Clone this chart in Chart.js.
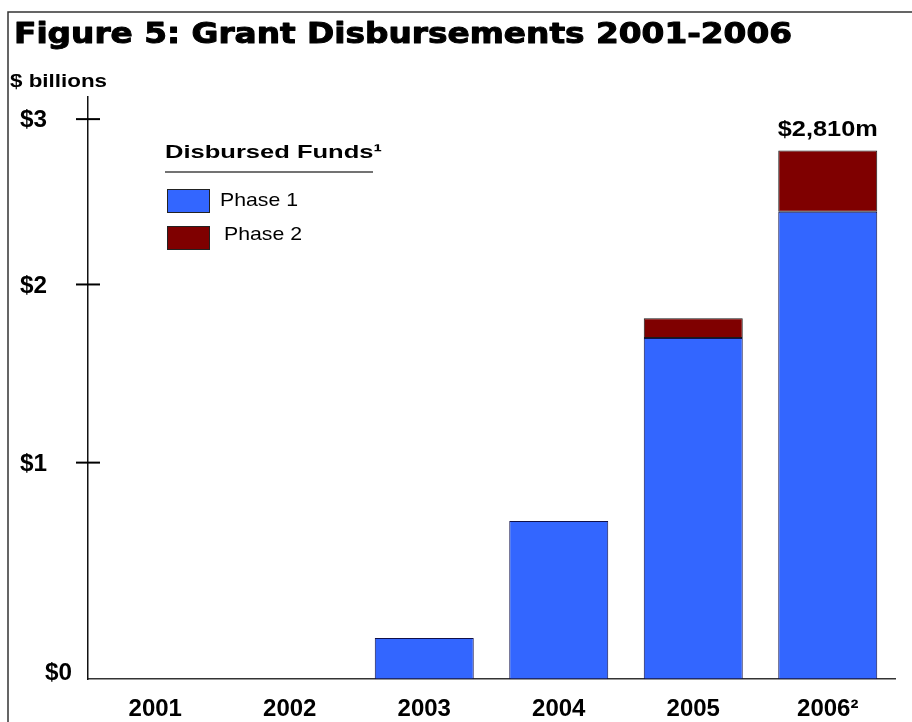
<!DOCTYPE html>
<html>
<head>
<meta charset="utf-8">
<script src="https://cdn.jsdelivr.net/npm/chart.js@4/dist/chart.umd.min.js"></script>
<style>
  html, body { margin: 0; padding: 0; background: #fff; }
  #wrap { width: 912px; height: 722px; }
</style>
</head>
<body>
<div id="wrap"><canvas id="graph" width="912" height="722"></canvas></div>
<script>
const chartTitle = "Figure 5: Grant Disbursements 2001-2006";
const unitLabel = "$ billions";
const legendTitle = "Disbursed Funds\u00B9";

const years = ["2001", "2002", "2003", "2004", "2005", "2006\u00B2"];
const phase1 = [0, 0, 0.19, 0.73, 1.70, 2.44];   // $ billions
const phase2 = [0, 0, 0, 0, 0.11, 0.37];
const yTickValues = [0, 1, 2, 3];
const yTickLabels = ["$0", "$1", "$2", "$3"];

// the source axis is not evenly spaced, so the value scale is piecewise
const yStopValues = [0, 1, 2, 3, 3.13];
const yStopFractions = [0, 0.372, 0.678, 0.962, 1];

class PiecewiseScale extends Chart.LinearScale {
  getPixelForValue(value) {
    if (value === null || isNaN(value)) return NaN;
    const v = yStopValues, f = yStopFractions;
    let i = 0;
    while (i < v.length - 2 && value > v[i + 1]) i++;
    const dec = f[i] + (value - v[i]) / (v[i + 1] - v[i]) * (f[i + 1] - f[i]);
    return this.getPixelForDecimal(dec);
  }
  getValueForPixel(pixel) {
    const dec = this.getDecimalForPixel(pixel);
    const v = yStopValues, f = yStopFractions;
    let i = 0;
    while (i < f.length - 2 && dec > f[i + 1]) i++;
    return v[i] + (dec - f[i]) / (f[i + 1] - f[i]) * (v[i + 1] - v[i]);
  }
}
PiecewiseScale.id = 'piecewise';
Chart.register(PiecewiseScale);

function fitText(ctx, text, x, y, width, font, align, stroke) {
  ctx.font = font;
  const w = ctx.measureText(text).width;
  const sx = width / w;
  ctx.save();
  ctx.translate(x, y);
  ctx.scale(sx, 1);
  ctx.textAlign = 'left';
  const ox = align === 'center' ? -w / 2 : (align === 'right' ? -w : 0);
  if (stroke) {
    ctx.lineWidth = stroke;
    ctx.lineJoin = 'round';
    ctx.strokeStyle = ctx.fillStyle;
    ctx.strokeText(text, ox, 0);
  }
  ctx.fillText(text, ox, 0);
  ctx.restore();
}

const decorations = {
  id: 'decorations',
  beforeDraw(chart) {
    const ctx = chart.ctx;
    ctx.save();
    ctx.fillStyle = '#fff';
    ctx.fillRect(0, 0, chart.width, chart.height);
    // frame
    ctx.strokeStyle = '#333';
    ctx.lineWidth = 1.5;
    ctx.beginPath();
    ctx.moveTo(8, chart.height);
    ctx.lineTo(8, 12);
    ctx.lineTo(chart.width, 12);
    ctx.stroke();

    ctx.fillStyle = '#000';
    ctx.textBaseline = 'alphabetic';
    fitText(ctx, chartTitle, 14, 43, 778, 'bold 28px "DejaVu Sans"', 'left', 1.0);
    fitText(ctx, unitLabel, 10, 87, 97, 'bold 19px "Liberation Sans"');
    ctx.restore();
  },
  afterDatasetsDraw(chart) {
    const ctx = chart.ctx;
    const y = chart.scales.y;
    const last = years.length - 1;
    const total = phase1[last] + phase2[last];
    const meta = chart.getDatasetMeta(0);
    const bx = meta.data[last].x;
    const top = y.getPixelForValue(total);
    const txt = '$' + Math.round(total * 1000).toLocaleString('en-US') + 'm';
    ctx.save();
    ctx.fillStyle = '#000';
    ctx.textBaseline = 'alphabetic';
    fitText(ctx, txt, bx, top - 15, 100, 'bold 22px "Liberation Sans"', 'center');
    ctx.restore();
  },
  afterDraw(chart) {
    const ctx = chart.ctx;
    const area = chart.chartArea;
    const y = chart.scales.y;
    ctx.save();
    // y ticks crossing the axis, with labels
    ctx.strokeStyle = '#000';
    ctx.lineWidth = 2;
    ctx.fillStyle = '#000';
    ctx.textBaseline = 'middle';
    yTickValues.forEach((v, i) => {
      const py = y.getPixelForValue(v);
      if (v > 0) {
        ctx.beginPath();
        ctx.moveTo(area.left - 12, py);
        ctx.lineTo(area.left + 12, py);
        ctx.stroke();
      }
      const lx = v === 0 ? area.left - 16 : area.left - 41;
      const ly = v === 0 ? py - 6 : py + 2;
      fitText(ctx, yTickLabels[i], lx, ly, 27, 'bold 23px "Liberation Sans"', 'right');
    });

    // legend
    ctx.textBaseline = 'alphabetic';
    fitText(ctx, legendTitle, 165, 158, 217, 'bold 19px "Liberation Sans"');
    ctx.strokeStyle = '#444';
    ctx.lineWidth = 1.5;
    ctx.beginPath();
    ctx.moveTo(165, 172);
    ctx.lineTo(373, 172);
    ctx.stroke();
    chart.data.datasets.forEach((ds, i) => {
      const by = 189 + i * 37;
      ctx.fillStyle = ds.backgroundColor;
      ctx.fillRect(167, by, 42, 23);
      ctx.strokeStyle = '#222';
      ctx.lineWidth = 1;
      ctx.strokeRect(167.5, by + 0.5, 42, 23);
      ctx.fillStyle = '#000';
      fitText(ctx, ds.label, 220 + i * 4, by + 17 - i * 3, 78, '19px "Liberation Sans"');
    });
    ctx.restore();
  }
};

window.onload = () => {
  const ctx = document.getElementById('graph').getContext('2d');
  new Chart(ctx, {
    type: 'bar',
    data: {
      labels: years,
      datasets: [{
        label: 'Phase 1',
        data: phase1,
        backgroundColor: '#3366FF',
        borderColor: '#10104a',
        borderWidth: 1,
        borderSkipped: false
      }, {
        label: 'Phase 2',
        data: phase2,
        backgroundColor: '#7F0000',
        borderColor: '#1a1a1a',
        borderWidth: 1,
        borderSkipped: false
      }]
    },
    options: {
      responsive: false,
      animation: false,
      layout: { padding: { top: 97, right: 17, bottom: -18, left: 0 } },
      plugins: {
        legend: { display: false },
        title: { display: false },
        tooltip: { enabled: false }
      },
      datasets: {
        bar: { barPercentage: 0.736, categoryPercentage: 1 }
      },
      scales: {
        x: {
          stacked: true,
          grid: { display: false, drawTicks: false },
          border: { display: true, color: '#333', width: 1.5 },
          ticks: {
            color: '#000',
            padding: 16,
            maxRotation: 0,
            font: { family: '"Liberation Sans", Arial, sans-serif', weight: 'bold', size: 24 }
          }
        },
        y: {
          type: 'piecewise',
          stacked: true,
          min: 0,
          max: 3.13,
          grid: { display: false, drawTicks: false },
          border: { display: true, color: '#111', width: 1.5 },
          ticks: { display: false },
          afterFit(scale) { scale.width = 88; }
        }
      }
    },
    plugins: [decorations]
  });
};
</script>
</body>
</html>
